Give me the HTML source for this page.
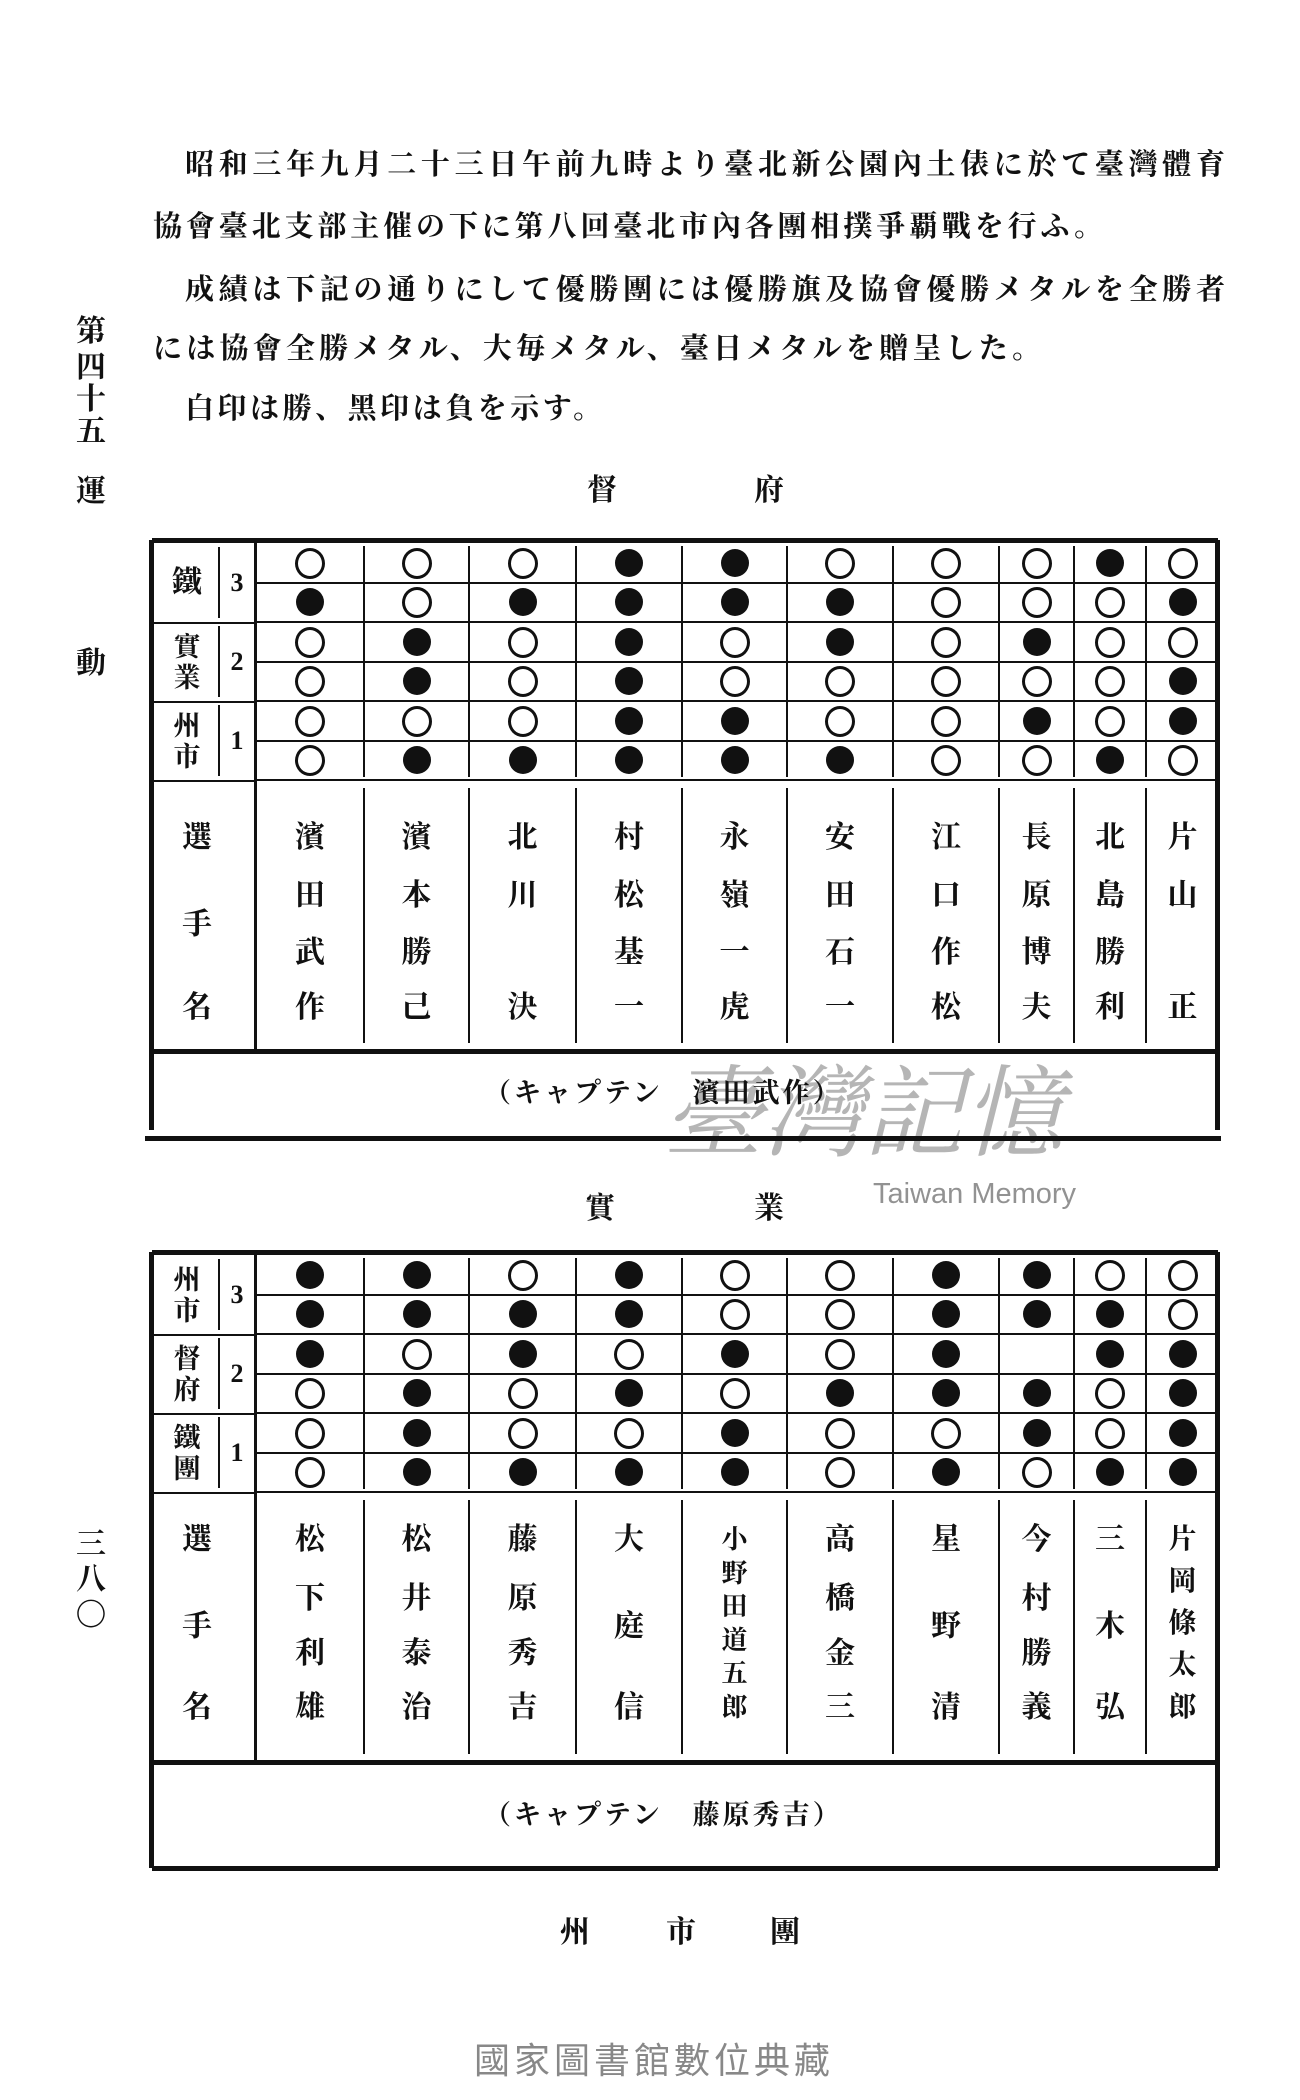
<!DOCTYPE html>
<html><head><meta charset="utf-8">
<style>
html,body{margin:0;padding:0;background:#fff;}
#pg{position:relative;width:1300px;height:2100px;overflow:hidden;background:#fff;
font-family:"Liberation Serif","Noto Serif CJK SC","Noto Sans CJK JP",serif;color:#111;font-weight:bold;}
.a{position:absolute;white-space:nowrap;}
.ln{position:absolute;font-size:29px;line-height:34px;height:34px;text-align:justify;text-align-last:justify;white-space:nowrap;}
.c{position:absolute;width:30px;height:30px;margin:-15px 0 0 -15px;font-size:30px;line-height:30px;text-align:center;}
.h{position:absolute;background:#111;}
.o{position:absolute;width:24px;height:25px;margin:-15px 0 0 -15px;border:3px solid #111;border-radius:50%;}
.x{position:absolute;width:28px;height:28px;margin:-14px 0 0 -14px;background:#111;border-radius:50%;}
</style></head><body><div id="pg">

<div class="ln" style="left:185px;top:148px;width:1040px;">昭和三年九月二十三日午前九時より臺北新公園內土俵に於て臺灣體育</div>
<div class="ln" style="left:153px;top:210px;width:950px;">協會臺北支部主催の下に第八回臺北市內各團相撲爭覇戰を行ふ。</div>
<div class="ln" style="left:185px;top:273px;width:1040px;">成績は下記の通りにして優勝團には優勝旗及協會優勝メタルを全勝者</div>
<div class="ln" style="left:153px;top:332px;width:888px;">には協會全勝メタル、大毎メタル、臺日メタルを贈呈した。</div>
<div class="ln" style="left:185px;top:392px;width:417px;">白印は勝、黑印は負を示す。</div>

<div class="c" style="left:91px;top:332px">第</div>
<div class="c" style="left:91px;top:368px">四</div>
<div class="c" style="left:91px;top:400px">十</div>
<div class="c" style="left:91px;top:432px">五</div>
<div class="c" style="left:91px;top:492px">運</div>
<div class="c" style="left:91px;top:664px">動</div>
<div class="c" style="left:91px;top:1545px">三</div>
<div class="c" style="left:91px;top:1580px">八</div>
<div class="c" style="left:91px;top:1616px">〇</div>

<div class="c" style="left:602px;top:491px">督</div>
<div class="c" style="left:769px;top:491px">府</div>
<div class="c" style="left:600px;top:1209px">實</div>
<div class="c" style="left:769px;top:1209px">業</div>
<div class="c" style="left:575px;top:1933px">州</div>
<div class="c" style="left:681px;top:1933px">市</div>
<div class="c" style="left:785px;top:1933px">團</div>

<div class="a" style="left:663px;top:1060px;font-size:100px;line-height:110px;color:rgba(120,120,120,0.55);font-weight:normal;font-style:italic;">臺灣記憶</div>
<div class="a" style="left:873px;top:1178px;font-size:29px;line-height:32px;color:rgba(110,110,110,0.75);font-family:'Liberation Sans',sans-serif;font-weight:normal;">Taiwan Memory</div>
<div class="a" style="left:474px;top:2039px;font-size:36px;line-height:44px;letter-spacing:4px;color:#888;font-family:'Liberation Sans','Noto Sans CJK TC',sans-serif;font-weight:normal;">國家圖書館數位典藏</div>

</div>
<script>
var pg=document.getElementById('pg');
function add(cls,st,txt){var d=document.createElement('div');d.className=cls;d.setAttribute('style',st);if(txt)d.textContent=txt;pg.appendChild(d);}
var sep=[255,363,468,575,681,786,892,998,1073,1145];
var R=1218,L=152;
function tbl(top,res,labels,names,cap,thickY,capY,bot,sepLine,slots){
  var rh=39.5, g=top+3, gb=g+6*rh;
  add('h','left:'+L+'px;top:'+(top-2)+'px;width:'+(R-L)+'px;height:5px');
  add('h','left:'+(L-3)+'px;top:'+top+'px;width:5px;height:'+(bot-top)+'px');
  add('h','left:'+(R-3)+'px;top:'+top+'px;width:5px;height:'+(bot-top)+'px');
  add('h','left:'+L+'px;top:'+thickY+'px;width:'+(R-L)+'px;height:5px');
  if(sepLine) add('h','left:145px;top:'+(bot+6)+'px;width:1076px;height:5px');
  else add('h','left:'+L+'px;top:'+(bot-2)+'px;width:'+(R-L)+'px;height:5px');
  add('h','left:'+(sep[0]-1)+'px;top:'+g+'px;width:3px;height:'+(thickY-g)+'px');
  for(var p=0;p<3;p++){
    var y0=g+p*2*rh;
    add('h','left:218px;top:'+(y0+4)+'px;width:2px;height:'+(2*rh-8)+'px');
    add('h','left:'+L+'px;top:'+(y0+2*rh)+'px;width:'+(sep[0]-L)+'px;height:2px');
    var lb=labels[p];
    if(lb.length==1) add('c','left:187px;top:'+(y0+rh)+'px',lb);
    else {add('c','left:187px;top:'+(y0+rh-15)+'px;font-size:27px',lb[0]);add('c','left:187px;top:'+(y0+rh+16)+'px;font-size:27px',lb[1]);}
    add('c','left:237px;top:'+(y0+rh)+'px;font-size:26px',String(3-p));
  }
  for(var r=1;r<=6;r++) add('h','left:'+(sep[0]+2)+'px;top:'+(g+r*rh-1)+'px;width:'+(R-sep[0]-4)+'px;height:2px');
  for(var i=1;i<sep.length;i++){
    add('h','left:'+sep[i]+'px;top:'+(g+3)+'px;width:2px;height:'+(gb-g-6)+'px');
    add('h','left:'+sep[i]+'px;top:'+(gb+8)+'px;width:2px;height:'+(thickY-gb-14)+'px');
  }
  var cx=[];for(var i=0;i<10;i++){var r2=(i==9?R:sep[i+1]);cx.push((sep[i]+r2)/2+1);}
  for(var r=0;r<6;r++)for(var i=0;i<10;i++){var v=res[r][i];if(v=='-')continue;
    add(v=='o'?'o':'x','left:'+cx[i]+'px;top:'+(g+r*rh+rh/2)+'px');}
  add('c','left:197px;top:'+(gb+slots[0])+'px','選');
  add('c','left:197px;top:'+(gb+(slots[1]+slots[2])/2)+'px','手');
  add('c','left:197px;top:'+(gb+slots[3])+'px','名');
  for(var i=0;i<10;i++){
    var n=names[i], skip=false;
    if(n[n.length-1]=='s'){skip=true;n=n.slice(0,-1);}
    if(n.length==4){for(var k=0;k<4;k++)add('c','left:'+cx[i]+'px;top:'+(gb+slots[k])+'px',n[k]);}
    else if(n.length==3){var ss=skip?[slots[0],slots[1],slots[3]]:[slots[0],(slots[1]+slots[2])/2,slots[3]];
      for(var k=0;k<3;k++)add('c','left:'+cx[i]+'px;top:'+(gb+ss[k])+'px',n[k]);}
    else {var m=n.length,st=(slots[3]-slots[0])/(m-1);
      for(var k=0;k<m;k++)add('c','left:'+cx[i]+'px;top:'+(gb+slots[0]+k*st)+'px;font-size:'+(m>5?26:28)+'px',n[k]);}
  }
  add('a','left:484px;top:'+(capY-17)+'px;font-size:27px;line-height:34px;letter-spacing:3px',cap);
}
tbl(540,["oooxxoooxo","xoxxxxooox","oxoxoxoxoo","oxoxooooox","oooxxooxox","oxxxxxooxo"],
 ["鐵","實業","州市"],
 ["濱田武作","濱本勝己","北川決s","村松基一","永嶺一虎","安田石一","江口作松","長原博夫","北島勝利","片山正s"],
 "（キャプテン　濱田武作）",1049,1093,1130,true,[58,116,173,228]);
tbl(1252,["xxoxooxxoo","xxxxooxxxo","xoxoxox-xx","oxoxoxxxox","oxooxooxox","oxxxxoxoxx"],
 ["州市","督府","鐵團"],
 ["松下利雄","松井泰治","藤原秀吉","大庭信","小野田道五郎","高橋金三","星野清","今村勝義","三木弘","片岡條太郎"],
 "（キャプテン　藤原秀吉）",1760,1815,1868,false,[48,107,162,216]);
</script>
</body></html>
